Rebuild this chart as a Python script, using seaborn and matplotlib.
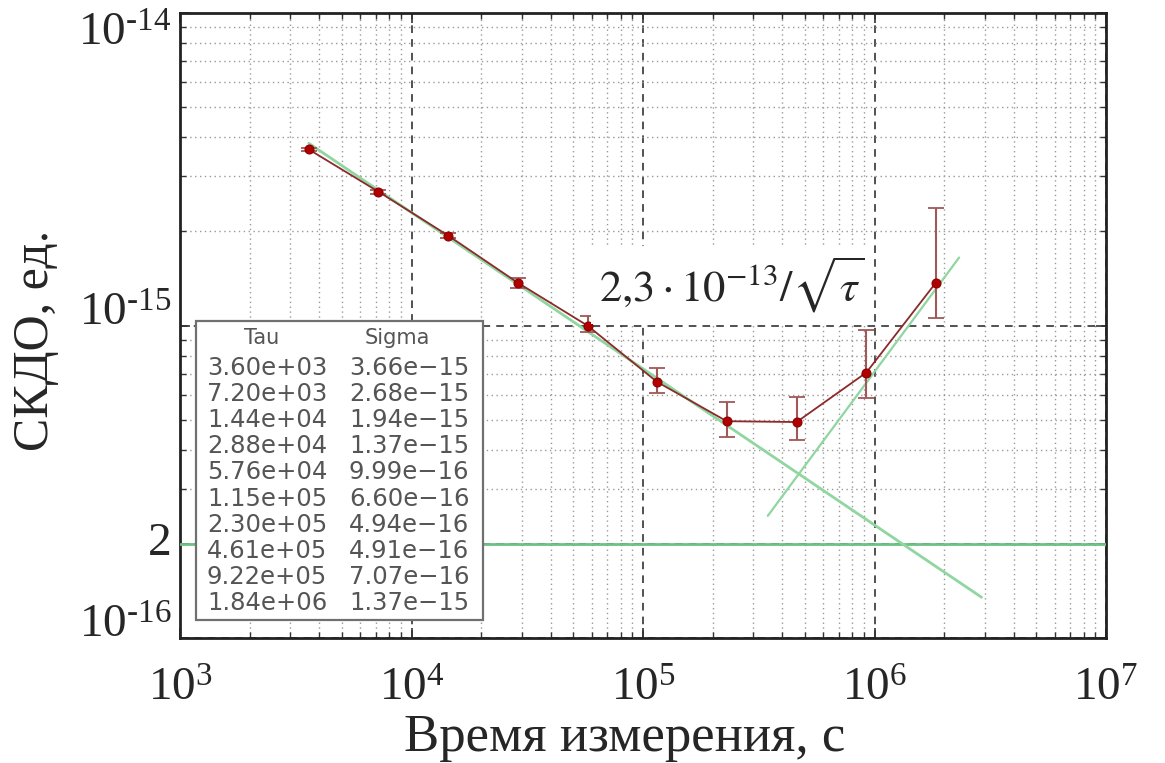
import seaborn as sns
import matplotlib.pyplot as plt
from matplotlib.patches import Rectangle

# data from the table in the chart
tau = [3.60e3, 7.20e3, 1.44e4, 2.88e4, 5.76e4, 1.15e5, 2.30e5, 4.61e5, 9.22e5, 1.84e6]
sigma = [3.66e-15, 2.68e-15, 1.94e-15, 1.37e-15, 9.99e-16, 6.60e-16, 4.94e-16, 4.91e-16, 7.07e-16, 1.37e-15]
# error bar ends
sigma_lo = [3.62e-15, 2.64e-15, 1.90e-15, 1.32e-15, 9.50e-16, 6.10e-16, 4.40e-16, 4.31e-16, 5.88e-16, 1.06e-15]
sigma_hi = [3.70e-15, 2.72e-15, 1.98e-15, 1.42e-15, 1.07e-15, 7.33e-16, 5.71e-16, 5.92e-16, 9.64e-16, 2.37e-15]

# green guide lines (end points)
fit_tau = [3.6e3, 2.9e6]
fit_sigma = [3.83e-15, 1.35e-16]
drift_tau = [3.46e5, 2.32e6]
drift_sigma = [2.46e-16, 1.65e-15]
floor_tau = [1e3, 1e7]
floor_sigma = [2e-16, 2e-16]

xticks = [1e3, 1e4, 1e5, 1e6, 1e7]
xlabels = [r'$10^{3}$', r'$10^{4}$', r'$10^{5}$', r'$10^{6}$', r'$10^{7}$']
yticks = [1e-16, 2e-16, 1e-15, 1e-14]
ylabels = [r'$10^{\text{-16}}$', '2', r'$10^{\text{-15}}$', r'$10^{\text{-14}}$']

sns.set_style("ticks")
plt.rcParams['font.family'] = ['Liberation Serif', 'DejaVu Serif']
plt.rcParams['mathtext.fontset'] = 'custom'
plt.rcParams['mathtext.rm'] = 'Liberation Serif'
plt.rcParams['mathtext.it'] = 'Liberation Serif:italic'

W, H = 1165, 763
fig = plt.figure(figsize=(W / 100, H / 100), dpi=100)
ax = fig.add_axes([180 / W, 1 - 638 / H, 926 / W, 625 / H])
ax.set_xscale('log')
ax.set_yscale('log')
ax.set_xlim(1e3, 1e7)
ax.set_ylim(1e-16, 1e-14)

ax.grid(which='major', ls=(0, (5, 4)), color='#222222', lw=1.1)
ax.grid(which='minor', ls=(0, (1, 2.5)), color='#999999', lw=1.0)
ax.set_axisbelow(True)

green = '#8fd6a0'
sns.lineplot(x=floor_tau, y=floor_sigma, ax=ax, color='#6cc184', lw=2.0, zorder=3)
sns.lineplot(x=fit_tau, y=fit_sigma, ax=ax, color=green, lw=2.0, zorder=3)
sns.lineplot(x=drift_tau, y=drift_sigma, ax=ax, color=green, lw=1.6, zorder=3)

yerr = [[s - l for s, l in zip(sigma, sigma_lo)], [h - s for s, h in zip(sigma, sigma_hi)]]
ax.errorbar(tau, sigma, yerr=yerr, fmt='none', ecolor='#a05858', elinewidth=1.5,
            capsize=5.5, capthick=1.3, zorder=4)
sns.lineplot(x=tau, y=sigma, ax=ax, color='#8b2a2a', lw=1.3, marker='o', markersize=6.5,
             markerfacecolor='#b00000', markeredgecolor='#8a0000', zorder=5)

ax.set_xticks(xticks)
ax.set_xticklabels(xlabels, fontsize=34)
ax.set_yticks(yticks)
ax.set_yticklabels(ylabels, fontsize=34)
ax.tick_params(which='both', direction='in', top=True, right=True, color='#333333')
ax.tick_params(which='major', length=7, width=1.2)
ax.tick_params(which='minor', length=4, width=1.0)
ax.tick_params(axis='x', which='major', pad=22)
ax.tick_params(axis='y', which='major', pad=6)
ylab = ax.get_yticklabels()
ylab[0].set_va('baseline')
ylab[1].set_va('center')
ylab[2].set_va('baseline')
ylab[3].set_va('top')
for s in ax.spines.values():
    s.set_linewidth(2)
    s.set_color('#222222')
ax.set_xlabel('')
ax.set_ylabel('')

fig.text(625 / W, 1 - 751 / H, 'Время измерения, с', fontsize=38, ha='center', va='baseline')
fig.text(36 / W, 1 - 340 / H, 'СКДО, ед.', fontsize=36, rotation=90, ha='center', va='center')

fig.text(732 / W, 1 - 285 / H, r'$2{,}3\cdot10^{-13}/\sqrt{\tau}$', fontsize=32,
         ha='center', va='center', math_fontfamily='stix', zorder=6,
         bbox=dict(facecolor='white', edgecolor='none', pad=6))

# table box with values
ax.add_patch(Rectangle((196 / W, 1 - 620 / H), 287 / W, 299 / H, transform=fig.transFigure,
                       facecolor='white', edgecolor='#707070', lw=1.6, zorder=7, clip_on=False))
tcol = '#555555'
fig.text(262 / W, 1 - 338 / H, 'Tau', fontsize=15, ha='center', va='center',
         family='DejaVu Sans', color=tcol, zorder=8)
fig.text(397 / W, 1 - 338 / H, 'Sigma', fontsize=15, ha='center', va='center',
         family='DejaVu Sans', color=tcol, zorder=8)
for i, (t, s) in enumerate(zip(tau, sigma)):
    y = 1 - (368 + 26.1 * i) / H
    fig.text(207 / W, y, f'{t:.2e}', fontsize=17.5, ha='left', va='center',
             family='DejaVu Sans', color=tcol, zorder=8)
    fig.text(349 / W, y, f'{s:.2e}'.replace('-', '\u2212'), fontsize=17.5, ha='left', va='center',
             family='DejaVu Sans', color=tcol, zorder=8)

fig.savefig('out.png', dpi=100, facecolor='white')
